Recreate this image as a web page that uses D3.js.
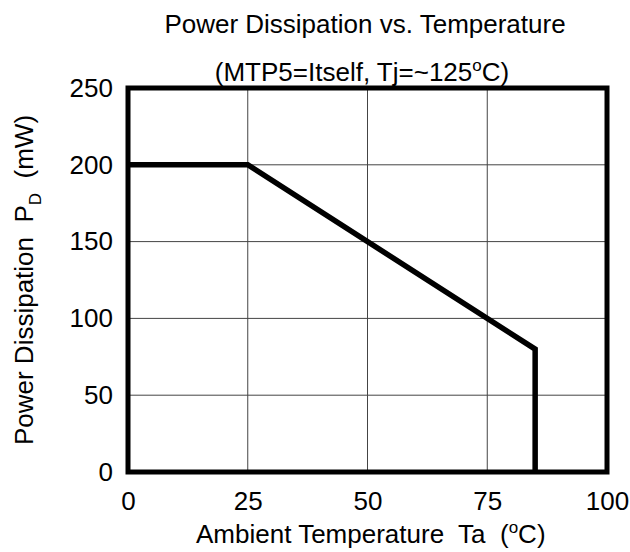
<!DOCTYPE html>
<html><head><meta charset="utf-8">
<script src="https://cdn.jsdelivr.net/npm/d3@7"></script>
<style>body{margin:0;background:#fff} text{font-family:"Liberation Sans",Arial,sans-serif;white-space:pre;fill:#000}</style>
</head><body>
<svg id="c" width="630" height="552"></svg>
<script>
const xTicks = [0, 25, 50, 75, 100];
const yTicks = [0, 50, 100, 150, 200, 250];
const temps = [0, 25, 85, 85];
const power = [200, 200, 80, 0];
const title = "Power Dissipation vs. Temperature";

const svg = d3.select("#c");
const L = 128, R = 607, T = 88, B = 472;
const FS = 26;
const x = d3.scaleLinear().domain([0, 100]).range([L, R]);
const y = d3.scaleLinear().domain([0, 250]).range([B, T]);

// grid
svg.append("g").selectAll("line").data(xTicks.slice(1, -1)).join("line")
  .attr("x1", d => x(d)).attr("x2", d => x(d)).attr("y1", T).attr("y2", B)
  .attr("stroke", "#444").attr("stroke-width", 1);
svg.append("g").selectAll("line").data(yTicks.slice(1, -1)).join("line")
  .attr("y1", d => y(d)).attr("y2", d => y(d)).attr("x1", L).attr("x2", R)
  .attr("stroke", "#444").attr("stroke-width", 1);

// axes labels via d3 axes
const xa = svg.append("g").attr("transform", `translate(0,${B})`)
  .call(d3.axisBottom(x).tickValues(xTicks).tickSize(0).tickPadding(20));
const ya = svg.append("g").attr("transform", `translate(${L},0)`)
  .call(d3.axisLeft(y).tickValues(yTicks).tickSize(0).tickPadding(15));
[xa, ya].forEach(a => { a.select(".domain").remove(); a.selectAll("text").attr("font-size", FS).attr("font-family", null); });

// frame
svg.append("rect").attr("x", L).attr("y", T).attr("width", R - L).attr("height", B - T)
  .attr("fill", "none").attr("stroke", "#000").attr("stroke-width", 5);

// curve
const pts = temps.map((t, i) => [t, power[i]]);
svg.append("path").datum(pts)
  .attr("d", d3.line().x(d => x(d[0])).y(d => y(d[1])))
  .attr("fill", "none").attr("stroke", "#000").attr("stroke-width", 5.5).attr("stroke-linejoin", "miter");

// titles
svg.append("text").attr("x", 365).attr("y", 33).attr("text-anchor", "middle").attr("font-size", FS).text(title);
const st = svg.append("text").attr("x", 362).attr("y", 81).attr("text-anchor", "middle").attr("font-size", FS);
st.append("tspan").text("(MTP5=Itself, Tj=~125");
st.append("tspan").attr("font-size", 17).attr("dy", -10).text("o");
st.append("tspan").attr("dy", 10).text("C)");

const xt = svg.append("text").attr("x", 196).attr("y", 543).attr("font-size", FS);
xt.append("tspan").text("Ambient Temperature  Ta  (");
xt.append("tspan").attr("font-size", 17).attr("dy", -10).text("o");
xt.append("tspan").attr("dy", 10).text("C)");

const yt = svg.append("text").attr("transform", `translate(33,${(T + B) / 2}) rotate(-90)`).attr("text-anchor", "middle").attr("font-size", FS);
yt.append("tspan").text("Power Dissipation  P");
yt.append("tspan").attr("font-size", 17).attr("dy", 8).text("D");
yt.append("tspan").attr("dy", -8).text("  (mW)");
</script>
</body></html>
